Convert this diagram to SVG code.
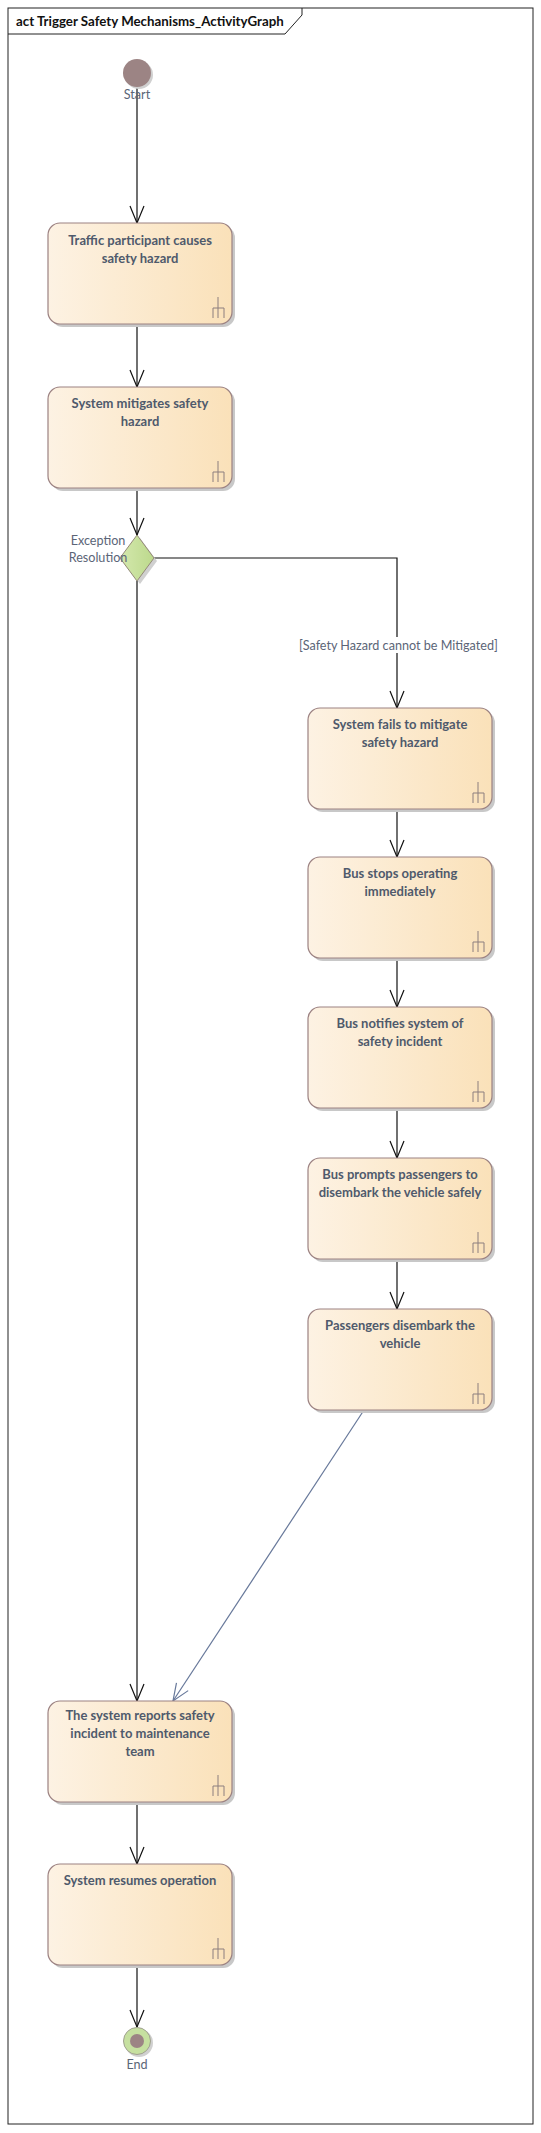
<svg xmlns="http://www.w3.org/2000/svg" width="541" height="2133" viewBox="0 0 541 2133">
<style>
.frame{fill:none;stroke:#222;stroke-width:1}
.title{font-family:Lato,"Liberation Sans",sans-serif;font-weight:bold;font-size:13.3px;fill:#111}
.box{stroke:#9c8282;stroke-width:1.2;fill:url(#g)}
.shadow{fill:#c8c8c8}
.t{font-family:Lato,"Liberation Sans",sans-serif;font-weight:bold;font-size:13px;fill:#4f5a6c;text-anchor:middle}
.lbl{font-family:Lato,"Liberation Sans",sans-serif;font-size:12.6px;fill:#5b6577}
.icon{fill:none;stroke:#8c7f7f;stroke-width:1}
.c{fill:none;stroke:#111;stroke-width:1.2}
.cb{fill:none;stroke:#67789a;stroke-width:1.2}
</style>
<defs>
<linearGradient id="g" x1="0" y1="0" x2="1" y2="0">
<stop offset="0" stop-color="#fdf2e3"/>
<stop offset="1" stop-color="#fae1b9"/>
</linearGradient>
<linearGradient id="gd" x1="0" y1="0" x2="1" y2="0">
<stop offset="0" stop-color="#d4e8ad"/>
<stop offset="1" stop-color="#bcd98c"/>
</linearGradient>
<marker id="a" viewBox="-19 -9 21 18" refX="0" refY="0" markerWidth="21" markerHeight="18" markerUnits="userSpaceOnUse" orient="auto">
<path d="M-17,-7 L0,0 L-17,7" fill="none" stroke="#111" stroke-width="1.2"/>
</marker>
<marker id="ab" viewBox="-19 -9 21 18" refX="0" refY="0" markerWidth="21" markerHeight="18" markerUnits="userSpaceOnUse" orient="auto">
<path d="M-17,-7 L0,0 L-17,7" fill="none" stroke="#67789a" stroke-width="1.2"/>
</marker>
<g id="fork"><path class="icon" d="M0,-21 V0 M-5,-10 H6 M-5,-10 V0 M6,-10 V0"/></g>
</defs>
<rect width="541" height="2133" fill="#fff"/>
<g id="frame">
<rect class="frame" x="8" y="8" width="525" height="2116"/>
<path class="frame" d="M8,34 H285 L302,15 V8"/>
<text class="title" x="16" y="26">act Trigger Safety Mechanisms_ActivityGraph</text>
</g>
<g id="connectors">
<line class="c" x1="137" y1="87" x2="137" y2="223" marker-end="url(#a)"/>
<line class="c" x1="137" y1="324" x2="137" y2="387" marker-end="url(#a)"/>
<line class="c" x1="137" y1="488" x2="137" y2="535" marker-end="url(#a)"/>
<line class="c" x1="137" y1="581" x2="137" y2="1701" marker-end="url(#a)"/>
<polyline class="c" points="154,558 397,558 397,708" marker-end="url(#a)"/>
<line class="c" x1="397" y1="809" x2="397" y2="857" marker-end="url(#a)"/>
<line class="c" x1="397" y1="958" x2="397" y2="1007" marker-end="url(#a)"/>
<line class="c" x1="397" y1="1108" x2="397" y2="1158" marker-end="url(#a)"/>
<line class="c" x1="397" y1="1259" x2="397" y2="1309" marker-end="url(#a)"/>
<line class="cb" x1="364" y1="1410" x2="173" y2="1701" marker-end="url(#ab)"/>
<line class="c" x1="137" y1="1802" x2="137" y2="1864" marker-end="url(#a)"/>
<line class="c" x1="137" y1="1965" x2="137" y2="2027" marker-end="url(#a)"/>
<rect x="297" y="637" width="207" height="16" fill="#fff"/>
<text class="lbl" x="299" y="650">[Safety Hazard cannot be Mitigated]</text>
</g>
<g id="start">
<circle cx="139" cy="75" r="14" fill="#d0d0d0"/>
<circle cx="137" cy="73" r="14" fill="#9c8484"/>
<text class="lbl" x="137" y="99" text-anchor="middle">Start</text>
</g>
<g id="n1">
<rect class="shadow" x="51" y="226" width="184" height="101" rx="12"/>
<rect class="box" x="48" y="223" width="184" height="101" rx="12"/>
<text class="t" x="140" y="245">Traffic participant causes</text>
<text class="t" x="140" y="263">safety hazard</text>
<use href="#fork" x="218" y="318"/>
</g>
<g id="n2">
<rect class="shadow" x="51" y="390" width="184" height="101" rx="12"/>
<rect class="box" x="48" y="387" width="184" height="101" rx="12"/>
<text class="t" x="140" y="408">System mitigates safety</text>
<text class="t" x="140" y="426">hazard</text>
<use href="#fork" x="218" y="482"/>
</g>
<g id="decision">
<path d="M140,538 L157,561 L140,584 L123,561 Z" fill="#d0d0d0"/>
<path d="M137,535 L154,558 L137,581 L120,558 Z" fill="url(#gd)" stroke="#948a78" stroke-width="1"/>
<text class="lbl" x="98" y="545" text-anchor="middle">Exception</text>
<text class="lbl" x="98" y="562" text-anchor="middle">Resolution</text>
</g>
<g id="n3">
<rect class="shadow" x="311" y="711" width="184" height="101" rx="12"/>
<rect class="box" x="308" y="708" width="184" height="101" rx="12"/>
<text class="t" x="400" y="729">System fails to mitigate</text>
<text class="t" x="400" y="747">safety hazard</text>
<use href="#fork" x="478" y="803"/>
</g>
<g id="n4">
<rect class="shadow" x="311" y="860" width="184" height="101" rx="12"/>
<rect class="box" x="308" y="857" width="184" height="101" rx="12"/>
<text class="t" x="400" y="878">Bus stops operating</text>
<text class="t" x="400" y="896">immediately</text>
<use href="#fork" x="478" y="952"/>
</g>
<g id="n5">
<rect class="shadow" x="311" y="1010" width="184" height="101" rx="12"/>
<rect class="box" x="308" y="1007" width="184" height="101" rx="12"/>
<text class="t" x="400" y="1028">Bus notifies system of</text>
<text class="t" x="400" y="1046">safety incident</text>
<use href="#fork" x="478" y="1102"/>
</g>
<g id="n6">
<rect class="shadow" x="311" y="1161" width="184" height="101" rx="12"/>
<rect class="box" x="308" y="1158" width="184" height="101" rx="12"/>
<text class="t" x="400" y="1179">Bus prompts passengers to</text>
<text class="t" x="400" y="1197">disembark the vehicle safely</text>
<use href="#fork" x="478" y="1253"/>
</g>
<g id="n7">
<rect class="shadow" x="311" y="1312" width="184" height="101" rx="12"/>
<rect class="box" x="308" y="1309" width="184" height="101" rx="12"/>
<text class="t" x="400" y="1330">Passengers disembark the</text>
<text class="t" x="400" y="1348">vehicle</text>
<use href="#fork" x="478" y="1404"/>
</g>
<g id="n8">
<rect class="shadow" x="51" y="1704" width="184" height="101" rx="12"/>
<rect class="box" x="48" y="1701" width="184" height="101" rx="12"/>
<text class="t" x="140" y="1720">The system reports safety</text>
<text class="t" x="140" y="1738">incident to maintenance</text>
<text class="t" x="140" y="1756">team</text>
<use href="#fork" x="218" y="1796"/>
</g>
<g id="n9">
<rect class="shadow" x="51" y="1867" width="184" height="101" rx="12"/>
<rect class="box" x="48" y="1864" width="184" height="101" rx="12"/>
<text class="t" x="140" y="1885">System resumes operation</text>
<use href="#fork" x="218" y="1959"/>
</g>
<g id="end">
<circle cx="139" cy="2043" r="14" fill="#d0d0d0"/>
<circle cx="137" cy="2041" r="13.5" fill="#c6e0a0" stroke="#a0a090" stroke-width="1"/>
<circle cx="137" cy="2041" r="7" fill="#9c8484"/>
<text class="lbl" x="137" y="2069" text-anchor="middle">End</text>
</g>
</svg>
